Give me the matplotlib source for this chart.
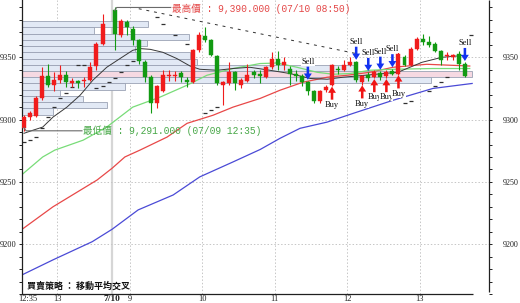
import matplotlib
matplotlib.use("Agg")
import matplotlib.pyplot as plt
from matplotlib.ticker import MultipleLocator, FixedLocator

# ---------------- data ----------------
# 5-minute bars, x = bar slot (slot 14 is the overnight gap)
slots = list(range(0, 14)) + list(range(15, 74))
opens = [9293, 9302, 9303, 9317, 9335, 9328, 9332, 9336, 9329, 9331, 9331, 9332, 9343, 9361,
         9388, 9368, 9378, 9373, 9364, 9346, 9334, 9313, 9323, 9335, 9335, 9337, 9332, 9330,
         9356, 9367, 9364, 9351, 9328, 9329, 9338, 9328, 9331, 9338, 9337, 9334, 9342, 9349,
         9344, 9341, 9337, 9335, 9330, 9323, 9315, 9324, 9328, 9341, 9340, 9344, 9346, 9330,
         9336, 9334, 9337, 9335, 9339, 9337, 9350, 9344, 9357, 9365, 9362, 9361, 9355, 9351,
         9350, 9353, 9345]
highs = [9304, 9307, 9319, 9342, 9345, 9338, 9344, 9339, 9333, 9332, 9334, 9346, 9362, 9385,
         9390, 9381, 9380, 9375, 9365, 9348, 9336, 9328, 9340, 9340, 9339, 9339, 9334, 9357,
         9370, 9374, 9365, 9352, 9331, 9346, 9339, 9333, 9345, 9340, 9340, 9343, 9354, 9355,
         9350, 9343, 9340, 9337, 9331, 9324, 9324, 9328, 9345, 9343, 9348, 9350, 9347, 9336,
         9338, 9340, 9339, 9340, 9341, 9354, 9352, 9358, 9366, 9369, 9367, 9362, 9356, 9354,
         9353, 9355, 9346]
lows = [9291, 9300, 9302, 9316, 9326, 9323, 9329, 9326, 9326, 9325, 9326, 9331, 9340, 9360,
        9356, 9366, 9368, 9360, 9345, 9330, 9305, 9309, 9322, 9331, 9331, 9330, 9326, 9329,
        9354, 9362, 9351, 9328, 9312, 9328, 9324, 9325, 9330, 9333, 9329, 9333, 9341, 9340,
        9340, 9328, 9331, 9327, 9320, 9313, 9313, 9322, 9327, 9337, 9339, 9343, 9330, 9328,
        9331, 9333, 9332, 9333, 9336, 9336, 9343, 9343, 9356, 9360, 9358, 9354, 9344, 9348,
        9348, 9340, 9334]
closes = [9302, 9305, 9317, 9335, 9328, 9332, 9336, 9330, 9331, 9329, 9332, 9342, 9361, 9377,
          9369, 9379, 9374, 9364, 9347, 9334, 9313, 9327, 9336, 9336, 9336, 9334, 9330, 9356,
          9368, 9364, 9352, 9329, 9330, 9338, 9329, 9332, 9336, 9336, 9335, 9342, 9349, 9344,
          9346, 9337, 9335, 9330, 9323, 9315, 9323, 9326, 9344, 9340, 9344, 9346, 9332, 9335,
          9333, 9338, 9334, 9338, 9337, 9353, 9344, 9357, 9365, 9362, 9360, 9355, 9348, 9352,
          9352, 9345, 9335]

# moving averages (vertices)
ma_black_x = [0, 1.5, 3.1, 4.8, 7.1, 9.3, 11.4, 13.7, 15.9, 18, 19.2, 20.9, 23, 25.3, 27.5,
              29.1, 32, 34.6, 37.4, 40.7, 44, 47.4, 50.2, 52.8, 56.5, 61.9, 65.9, 69.2, 73]
ma_black_y = [9289, 9291.5, 9294, 9302, 9310, 9319.6, 9331.6, 9342, 9349, 9355.6, 9357, 9356.4,
              9354, 9349, 9343, 9340.4, 9339.6, 9341, 9342, 9339.6, 9337, 9333, 9332.4, 9334,
              9335.6, 9338, 9346, 9350, 9351.6]
ma_green_x = [-0.3, 3.1, 5.1, 9.8, 13.7, 18, 22.5, 27, 30.3, 34.6, 39.1, 41.9, 45.2, 48.5,
              51.2, 54, 57.3, 61.1, 67.7, 73.8]
ma_green_y = [9256, 9270, 9275.5, 9283.5, 9294, 9310, 9318, 9327.6, 9335.6, 9341, 9345,
              9345.4, 9342, 9338, 9336.4, 9337, 9339.6, 9340.4, 9341, 9341]
ma_red_x = [-0.3, 4.8, 12.1, 14.6, 16.7, 19.2, 23.7, 27, 31.3, 34.6, 39.1, 42.4, 46.2, 50.2,
            53.5, 57.3, 61.1, 66.7, 73.8]
ma_red_y = [9212, 9230, 9251.5, 9261, 9270, 9275.5, 9286, 9297, 9303.5, 9310, 9317, 9323.6,
            9330, 9334, 9335.6, 9338, 9342, 9344.4, 9343]
ma_blue_x = [-0.3, 4.8, 11.3, 14.6, 18.9, 24.7, 29.1, 34.6, 39.1, 42.4, 45.7, 50.2, 54.5,
             61.1, 67.7, 74.2]
ma_blue_y = [9175.4, 9187.4, 9202, 9212, 9227.5, 9239.5, 9254, 9266, 9276, 9285, 9293, 9298,
             9305, 9315.5, 9325, 9329]

# stop dashes
sar_x = [0, 1, 2, 3, 4, 5, 6, 7, 8, 9, 10, 12, 13, 14, 15, 16, 17, 18, 22, 23, 25, 27,
         30, 31, 32, 63, 64, 67, 68, 69, 70, 74]
sar_y = [9282, 9283.5, 9286, 9293, 9302, 9310, 9317, 9321, 9326, 9344, 9344, 9325, 9327,
         9330, 9333, 9338, 9344, 9347, 9382, 9377, 9368, 9361, 9305, 9308, 9310, 9313, 9315,
         9323, 9327, 9330, 9334, 9368]

# dashed trend line
trend_x = [19, 55]
trend_y = [9389, 9353]

# price-volume profile (5-point bins, length in bar slots)
prof_low = [9374, 9369, 9364, 9359, 9354, 9349, 9344, 9339, 9334, 9329, 9324, 9319, 9314, 9309, 9304]
prof_len = [20.9, 11.9, 27.6, 20.7, 18.7, 27.8, 29.0, 55.5, 74.5, 67.7, 17.0, 6.3, 10.1, 14.1, 5.1]
prof_hot = 9334

# signals
sell_slots = [47, 55, 57, 59, 61, 73]
buy_slots = [51, 56, 58, 60, 62]

# high / low annotations
hi_slot, hi_val = 15, 9390
lo_slot, lo_val = 0, 9291
hi_text = "最高價 : 9,390.000 (07/10 08:50)"
lo_text = "最低價 : 9,291.000 (07/09 12:35)"
title_text = "買賣策略 ： 移動平均交叉"

# axes
xtick_pos = [0.7, 5.5, 14.5, 17.5, 29.5, 41.5, 53.5, 65.5]
xtick_lab = ["12:35", "13", "7/10", "9", "10", "11", "12", "13"]
hour_grid = [5.5, 17.5, 29.5, 41.5, 53.5, 65.5]
day_break = [14.5]
ytick_vals = [9200, 9250, 9300, 9350]

# ---------------- drawing ----------------
SERIF = "Liberation Serif"
CJK_MONO = ["Liberation Mono", "Noto Sans CJK TC"]
UP, DOWN = "#F01C1C", "#129A12"

fig = plt.figure(figsize=(5.2, 3.03), dpi=100)
ax = fig.add_axes([22 / 520, 9 / 303, 467 / 520, 294 / 303])
ax.set_xlim(-0.33, 76.99)
ax.set_ylim(9160, 9396)

for s in ax.spines.values():
    s.set_visible(False)
ax.spines["left"].set_visible(True)
ax.spines["left"].set_color("#202020")
ax.spines["left"].set_linewidth(0.9)
ax.plot([0, 0.9657], [0, 0], transform=ax.transAxes, color="#202020", lw=0.9,
        clip_on=False, solid_capstyle="butt")
ax.plot([1, 1], [0.007, 1], transform=ax.transAxes, color="#202020", lw=0.9,
        clip_on=False, solid_capstyle="butt")

# grid
for g in hour_grid:
    ax.axvline(g, color="#C6C6C6", lw=0.7, ls=(0, (1.5, 2)), zorder=0.5)
for d in day_break:
    ax.axvline(d, color="#D6D6D6", lw=1.6, zorder=0.5)
for v in ytick_vals:
    ax.axhline(v, color="#C6C6C6", lw=0.7, ls=(0, (1.5, 2)), zorder=0.5)

# volume profile
fills = ["#F6D9E2" if p == prof_hot else "#E2E9F5" for p in prof_low]
ax.barh(prof_low, prof_len, left=-0.33, height=5, align="edge", color=fills,
        edgecolor="#9AA2B4", linewidth=0.6, zorder=1)

# moving averages
ax.plot(ma_blue_x, ma_blue_y, color="#4A4AD6", lw=0.9, zorder=2)
ax.plot(ma_red_x, ma_red_y, color="#E84848", lw=0.9, zorder=2)
ax.plot(ma_green_x, ma_green_y, color="#78DC78", lw=0.9, zorder=2)
ax.plot(ma_black_x, ma_black_y, color="#383838", lw=0.7, zorder=2.1)

# trend line and stop dashes
ax.plot(trend_x, trend_y, color="#303030", lw=0.7, dashes=(3, 5), zorder=2.2)
ax.plot(sar_x, sar_y, ls="none", marker="_", ms=3.5, mew=0.9, color="#303030", zorder=2.2)

# candles
cols = [UP if c >= o else DOWN for o, c in zip(opens, closes)]
ax.vlines(slots, lows, highs, colors=cols, linewidth=0.8, zorder=2.9)
bottoms = [min(o, c) for o, c in zip(opens, closes)]
heights = [max(abs(c - o), 0.9) for o, c in zip(opens, closes)]
ax.bar(slots, heights, bottom=bottoms, width=0.66, color=cols, edgecolor=cols,
       linewidth=0.3, zorder=3)

# high / low leaders and labels
ax.plot([hi_slot, hi_slot + 0.35, hi_slot + 9.3], [hi_val - 2.5, hi_val, hi_val],
        color="#6A6A6A", lw=0.8, zorder=4)
ax.text(hi_slot + 9.5, hi_val - 0.8, hi_text, color="#E44848", fontsize=6.9,
        family=CJK_MONO, ha="left", va="center", zorder=4)
ax.plot([lo_slot, lo_slot + 0.35, lo_slot + 9.6], [lo_val + 2.5, lo_val, lo_val],
        color="#6A6A6A", lw=0.8, zorder=4)
ax.text(lo_slot + 9.8, lo_val + 0.3, lo_text, color="#48A848", fontsize=6.9,
        family=CJK_MONO, ha="left", va="center", zorder=4)

# signals
ALEN = 10.5
for s in sorted(sell_slots + buy_slots):
    i = slots.index(s)
    if s in sell_slots:
        tip = highs[i] + 1
        ax.arrow(s, tip + ALEN, 0, -ALEN, width=0.42, head_width=1.3, head_length=5,
                 length_includes_head=True, color="#1232F0", lw=0, zorder=5)
        ax.text(s, tip + ALEN + 0.6, "Sell", ha="center", va="bottom", fontsize=6,
                family=SERIF, color="#101010", zorder=6,
                bbox=dict(fc="white", ec="none", pad=0))
    else:
        tip = lows[i] - 0.5
        ax.arrow(s, tip - ALEN, 0, ALEN, width=0.42, head_width=1.3, head_length=5,
                 length_includes_head=True, color="#F01414", lw=0, zorder=5)
        ax.text(s, tip - ALEN - 1.0, "Buy", ha="center", va="top", fontsize=6,
                family=SERIF, color="#101010", zorder=6,
                bbox=dict(fc="white", ec="none", pad=0))

# title
ax.text(0.0107, 0.028, title_text, transform=ax.transAxes, fontsize=6.5,
        fontweight="bold", family=["Noto Sans CJK TC", "DejaVu Sans"],
        ha="left", va="center", color="#101010", zorder=6)

# ticks
ax.yaxis.set_major_locator(FixedLocator(ytick_vals))
ax.yaxis.set_minor_locator(MultipleLocator(10))
ax.tick_params(axis="y", which="both", direction="out", length=2.2, width=0.7,
               pad=1.5, labelsize=6, colors="#202020")
for lab in ax.get_yticklabels():
    lab.set_family(SERIF)

ax.set_xticks(xtick_pos)
ax.set_xticklabels(xtick_lab, family=SERIF, fontsize=6, color="#202020")
ax.tick_params(axis="x", length=0, pad=0.6)
for lab in ax.get_xticklabels():
    if lab.get_text() == "7/10":
        lab.set_fontweight("bold")
        lab.set_fontsize(6.8)

ax2 = ax.twinx()
ax2.set_ylim(ax.get_ylim())
for s in ax2.spines.values():
    s.set_visible(False)
ax2.yaxis.set_major_locator(FixedLocator(ytick_vals))
ax2.yaxis.set_minor_locator(MultipleLocator(10))
ax2.tick_params(axis="y", which="both", direction="out", length=2.2, width=0.7,
                pad=7.6, labelsize=5.8, colors="#202020")
for lab in ax2.get_yticklabels():
    lab.set_family(SERIF)

fig.savefig("out.png", dpi=100)
